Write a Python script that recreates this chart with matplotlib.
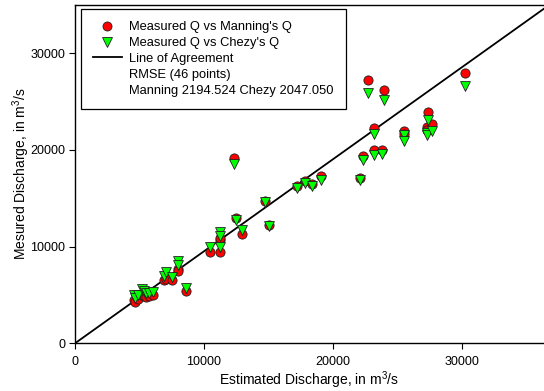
import matplotlib
matplotlib.use("Agg")
import matplotlib.pyplot as plt
from matplotlib.lines import Line2D

plt.rcParams['font.family'] = ['Liberation Sans', 'DejaVu Sans']
plt.rcParams['mathtext.fontset'] = 'custom'
plt.rcParams['mathtext.rm'] = 'Liberation Sans'
plt.rcParams['mathtext.it'] = 'Liberation Sans:italic'

# estimated discharge (x) and the two measured-vs-model series
estimated = [4600, 4680, 4900, 5200, 5350, 5500, 5770, 6020, 6900, 7060, 7520, 7960, 7960, 8600,
             10470, 11270, 11270, 11270, 12330, 12490, 12930, 14730, 15020,
             17220, 17840, 18390, 19100,
             22130, 22340, 22740, 23170, 23200, 23840, 24000, 25500, 25500,
             27300, 27300, 27410, 27700, 30230]
manning_q = [4430, 4300, 4600, 5020, 4900, 4770, 4880, 5020, 6500, 6670, 6500, 7700, 7500, 5360,
             9480, 9480, 10700, 10900, 19140, 12960, 11310, 14670, 12200,
             16220, 16800, 16460, 17250,
             17080, 19380, 27190, 22300, 19970, 19970, 26150, 22000, 21600,
             22400, 22100, 23900, 22650, 27900]
chezy_q = [5020, 4700, 4950, 5640, 5400, 5190, 5230, 5290, 7000, 7420, 6840, 8500, 8100, 5740,
           10000, 9930, 11500, 11100, 18590, 12750, 11720, 14570, 12100,
           16010, 16570, 16300, 16900,
           16900, 19000, 25850, 21680, 19480, 19560, 25130, 21500, 20900,
           21700, 21500, 23060, 22000, 26600]

# line of agreement as drawn in the source chart
agree_x = [0, 36400]
agree_y = [0, 34600]

rmse_text = "RMSE (46 points)"
rmse_values = "Manning 2194.524 Chezy 2047.050"

fig = plt.figure(figsize=(5.44, 3.91), dpi=100)
ax = fig.add_axes([75 / 544, 47.7 / 391, 469 / 544, 338.5 / 391])

ax.plot(agree_x, agree_y, color='black', linewidth=1.3, zorder=1)
ax.scatter(estimated, manning_q, s=44, marker='o', facecolor='#ff0000',
           edgecolor='#202020', linewidth=0.6, zorder=2)
ax.scatter(estimated, chezy_q, s=50, marker='v', facecolor='#00ff00',
           edgecolor='#202020', linewidth=0.6, zorder=3)

ax.set_xlim(0, 36400)
ax.set_ylim(0, 35000)
ax.set_xticks([0, 10000, 20000, 30000])
ax.set_yticks([0, 10000, 20000, 30000])
ax.tick_params(direction='out', length=4, width=0.8, labelsize=9, colors='black')
ax.tick_params(axis='x', pad=5.5)
ax.tick_params(axis='y', pad=3)
ax.spines['right'].set_visible(False)
for s in ['left', 'bottom', 'top']:
    ax.spines[s].set_linewidth(1.0)

ax.set_xlabel("Estimated Discharge, in m$^{3}$/s", fontsize=10, labelpad=0.5)
ax.set_ylabel("Mesured Discharge, in m$^{3}$/s", fontsize=10, labelpad=-1)

handles = [
    Line2D([], [], linestyle='none', marker='o', markersize=6.5, markerfacecolor='#ff0000',
           markeredgecolor='#202020', markeredgewidth=0.6),
    Line2D([], [], linestyle='none', marker='v', markersize=6.5, markerfacecolor='#00ff00',
           markeredgecolor='#202020', markeredgewidth=0.6),
    Line2D([], [], color='black', linewidth=1.3),
    Line2D([], [], color='none'),
    Line2D([], [], color='none'),
]
labels = ["Measured Q vs Manning's Q", "Measured Q vs Chezy's Q", "Line of Agreement",
          rmse_text, rmse_values]
leg = ax.legend(handles, labels, loc='upper left',
                bbox_to_anchor=(6 / 469, (338.5 - 4) / 338.5, 265 / 469, 0.0),
                mode='expand', borderaxespad=0, fontsize=9.3, frameon=True, fancybox=False,
                edgecolor='black', framealpha=1, handlelength=2.2, handletextpad=0.55,
                labelspacing=0.3, borderpad=0.95)
leg.get_frame().set_linewidth(0.9)

fig.savefig("out.png", dpi=100)
